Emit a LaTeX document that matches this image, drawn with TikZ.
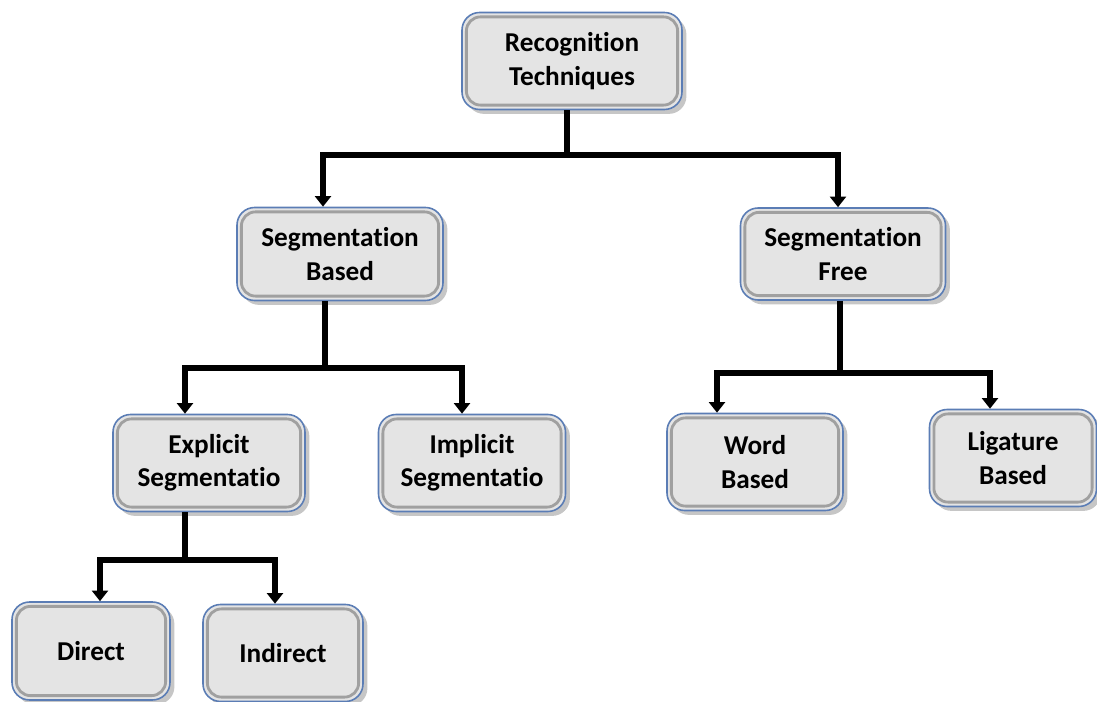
\documentclass[tikz,border=0pt]{standalone}
\usepackage{fontspec}
\setmainfont[Ligatures={NoCommon}]{Carlito}
\usetikzlibrary{arrows.meta,shadows}
\definecolor{BoxEdge}{HTML}{5B7DB5}
\definecolor{BoxFill}{HTML}{E4E4E4}
\definecolor{BoxRim}{HTML}{A0A0A0}

\begin{document}
\begin{tikzpicture}[
  tbox/.style={rounded corners=10pt, draw=BoxEdge, line width=0.9pt, fill=BoxFill,
               align=center, font=\fontsize{15.5}{19}\selectfont\bfseries, inner sep=0pt,
               drop shadow={shadow xshift=2.5pt, shadow yshift=-2.5pt, opacity=0.45},
               path picture={\draw[BoxRim, line width=1.6pt, rounded corners=8pt]
                 ([shift={(2.5pt,2.5pt)}]path picture bounding box.south west) rectangle
                 ([shift={(-2.5pt,-2.5pt)}]path picture bounding box.north east);}},
  bus/.style={line width=3.4pt, black},
  arr/.style={bus, -{Triangle[width=9pt,length=6pt]}}
]
  \useasboundingbox (0,0) rectangle (21.94,-14.04);

  % boxes
  \node[tbox, minimum width=4.4cm,  minimum height=1.94cm] (rt) at (11.44,-1.22) {Recognition\\Techniques};
  \node[tbox, minimum width=4.12cm, minimum height=1.86cm] (sb) at (6.8,-5.08)   {Segmentation\\Based};
  \node[tbox, minimum width=4.1cm,  minimum height=1.84cm] (sf) at (16.86,-5.08) {Segmentation\\Free};
  \node[tbox, minimum width=3.84cm, minimum height=1.94cm] (ex) at (4.18,-9.26)  {Explicit\\Segmentatio};
  \node[tbox, minimum width=3.74cm, minimum height=1.94cm] (im) at (9.44,-9.26)  {Implicit\\Segmentatio};
  \node[tbox, minimum width=3.52cm, minimum height=1.94cm] (wb) at (15.1,-9.24)  {Word\\Based};
  \node[tbox, minimum width=3.34cm, minimum height=1.94cm] (lb) at (20.26,-9.16) {Ligature\\Based};
  \node[tbox, minimum width=3.16cm, minimum height=1.96cm] (di) at (1.82,-13.02) {Direct};
  \node[tbox, minimum width=3.2cm,  minimum height=1.94cm] (in) at (5.66,-13.06) {Indirect};

  % bus junctions
  \coordinate (j1) at (11.34,-3.1);
  \coordinate (j2) at (6.5,-7.36);
  \coordinate (j3) at (16.8,-7.46);
  \coordinate (j4) at (3.7,-11.2);

  % connectors
  \draw[bus] (rt.south -| j1) -- (j1);
  \draw[arr] (j1) -| ([xshift=-0.34cm]sb.north);
  \draw[arr] (j1) -| ([xshift=-0.1cm]sf.north);

  \draw[bus] (sb.south -| j2) -- (j2);
  \draw[arr] (j2) -| ([xshift=-0.48cm]ex.north);
  \draw[arr] (j2) -| ([xshift=-0.2cm]im.north);

  \draw[bus] (sf.south -| j3) -- (j3);
  \draw[arr] (j3) -| ([xshift=-0.76cm]wb.north);
  \draw[arr] (j3) -| ([xshift=-0.46cm]lb.north);

  \draw[bus] (ex.south -| j4) -- (j4);
  \draw[arr] (j4) -| ([xshift=0.18cm]di.north);
  \draw[arr] (j4) -| ([xshift=-0.16cm]in.north);
\end{tikzpicture}
\end{document}
